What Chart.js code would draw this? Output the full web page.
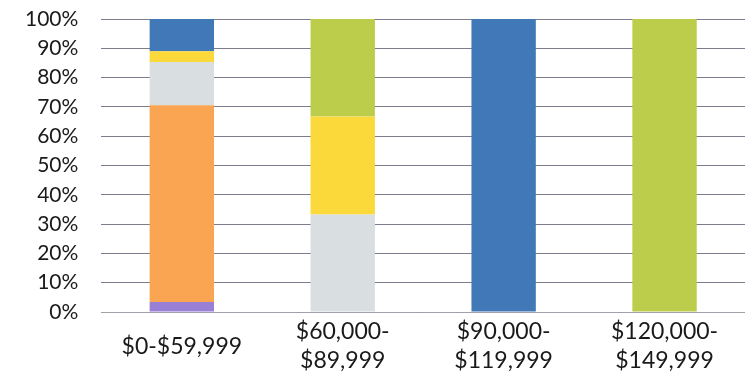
<!DOCTYPE html>
<html>
<head>
<meta charset="utf-8">
<script src="https://cdn.jsdelivr.net/npm/chart.js@4/dist/chart.umd.min.js"></script>
<style>
  html, body { margin: 0; padding: 0; background: #fff; }
  #wrap { width: 745px; height: 377px; position: relative; }
</style>
</head>
<body>
<div id="wrap"><canvas id="c"></canvas></div>
<script>
const categories = [["$0-$59,999"], ["$60,000-", "$89,999"], ["$90,000-", "$119,999"], ["$120,000-", "$149,999"]];
const purpleSeries = [3.4, 0, 0, 0];
const orangeSeries = [67.2, 0, 0, 0];
const graySeries   = [14.7, 33.3, 0, 0];
const yellowSeries = [3.7, 33.4, 0, 0];
const greenSeries  = [0, 33.3, 0, 100];
const blueSeries   = [11.0, 0, 100, 0];
const yTicks = [0, 10, 20, 30, 40, 50, 60, 70, 80, 90, 100];

const ds = (label, data, color) => ({
  label, data, backgroundColor: color, borderWidth: 0,
  barPercentage: 0.5, categoryPercentage: 0.8
});

new Chart(document.getElementById('c'), {
  type: 'bar',
  data: {
    labels: categories,
    datasets: [
      ds('Purple', purpleSeries, '#9a7fd6'),
      ds('Orange', orangeSeries, '#f9a551'),
      ds('Gray', graySeries, '#d9dfe1'),
      ds('Yellow', yellowSeries, '#fcd93a'),
      ds('Green', greenSeries, '#bccd4c'),
      ds('Blue', blueSeries, '#4179b8')
    ]
  },
  options: {
    responsive: true,
    maintainAspectRatio: false,
    animation: false,
    layout: { padding: { top: 0, right: 0, bottom: 0, left: 2 } },
    plugins: { legend: { display: false }, tooltip: { enabled: false } },
    scales: {
      x: {
        stacked: true,
        afterFit: (s) => { s.height = 65; s.paddingLeft = 0; s.paddingRight = 0; },
        grid: { display: false, drawTicks: false },
        border: { display: true, color: '#a0a0a8', width: 1 },
        ticks: {
          color: '#1a1a1a',
          font: { family: 'Lato, "Open Sans", sans-serif', size: 23, lineHeight: 1.26 },
          padding: 20,
          crossAlign: 'center',
          maxRotation: 0,
          autoSkip: false
        }
      },
      y: {
        stacked: true,
        min: 0, max: 100,
        afterBuildTicks: (axis) => { axis.ticks = yTicks.map(v => ({ value: v })); },
        afterFit: (s) => { s.paddingTop = 19; s.paddingBottom = 0; },
        grid: { color: '#7c7c8c', lineWidth: 1, drawTicks: false },
        border: { display: false },
        ticks: {
          color: '#1a1a1a',
          autoSkip: false,
          font: { family: 'Lato, "Open Sans", sans-serif', size: 21 },
          padding: 23,
          callback: v => v + '%'
        }
      }
    }
  }
});
</script>
</body>
</html>
